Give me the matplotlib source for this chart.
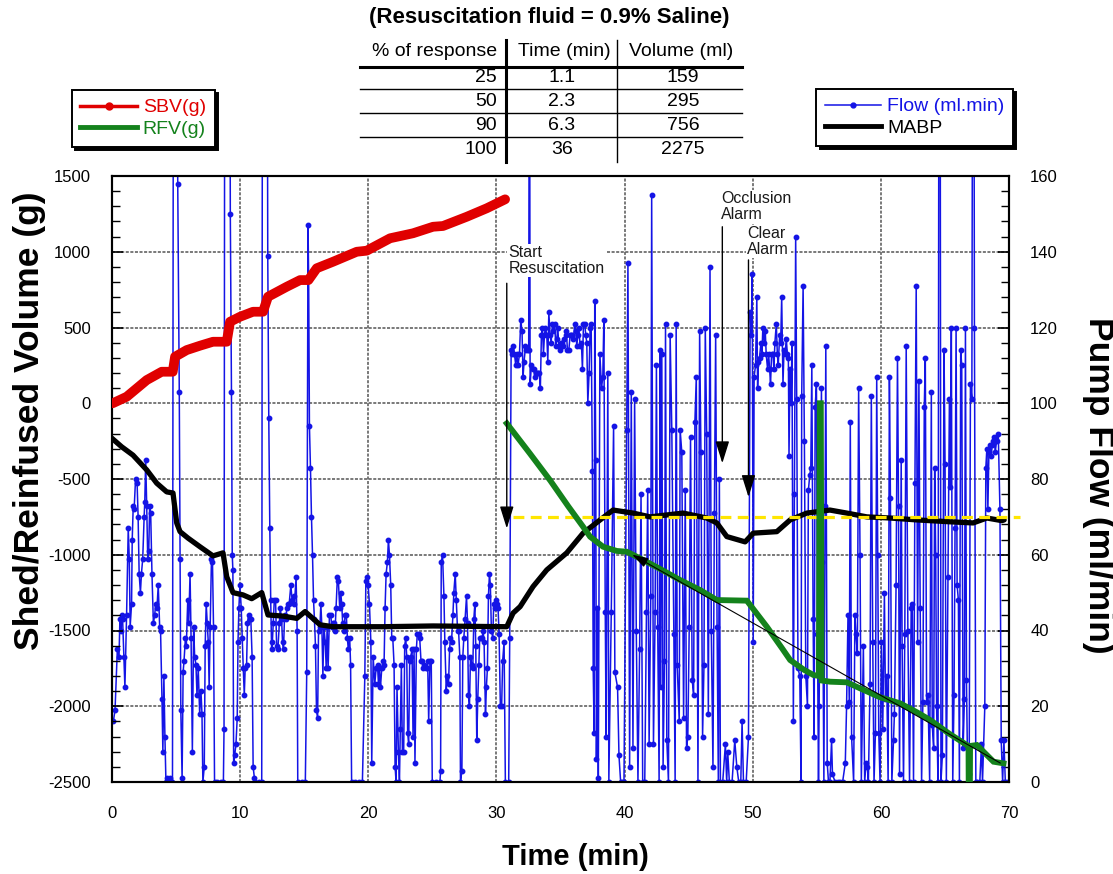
import matplotlib
matplotlib.use("Agg")
import matplotlib.pyplot as plt
from matplotlib.lines import Line2D
from matplotlib.ticker import MultipleLocator

# ---------------- data ----------------
title_text = "(Resuscitation fluid = 0.9% Saline)"
table_header = ["% of response", "Time (min)", "Volume (ml)"]
table_pct = ["25", "50", "90", "100"]
table_time = ["1.1", "2.3", "6.3", "36"]
table_vol = ["159", "295", "756", "2275"]

x_ticks = [0, 10, 20, 30, 40, 50, 60, 70]
left_ticks = [-2500, -2000, -1500, -1000, -500, 0, 500, 1000, 1500]
right_ticks = [0, 20, 40, 60, 80, 100, 120, 140, 160]

# shed blood volume (g, left axis)
sbv_min = [0.08, 1.17, 2.73, 3.90, 4.76, 4.94, 5.85, 6.89, 7.90, 8.97, 9.23, 10.01, 11.02, 11.80,
           12.19, 13.65, 14.69, 15.34, 15.99, 17.26, 19.11, 19.89, 21.71, 23.50, 25.06, 25.84,
           27.69, 29.25, 30.68]
sbv_g = [0, 43, 153, 208, 208, 307, 351, 380, 406, 406, 538, 571, 604, 604,
         703, 769, 813, 813, 891, 934, 1000, 1007, 1089, 1122, 1165, 1170,
         1231, 1287, 1346]

# reinfused volume (g, left axis)
rfv_min = [30.81, 32.60, 34.20, 35.60, 36.76, 37.31, 38.32, 39.39, 40.17, 41.21,
           42.80, 44.33, 45.89, 47.19, 49.53, 51.09, 52.30, 52.91, 54.00, 54.73,
           55.15, 55.22, 55.30, 55.36, 56.03, 57.33, 58.37, 59.90, 61.49, 62.80,
           63.83, 65.30, 66.69, 66.82, 66.84, 66.92, 66.94, 67.47, 68.77, 69.55]
rfv_g = [-133, -330, -510, -680, -815, -881, -947, -975, -980, -1024,
         -1095, -1167, -1233, -1299, -1303, -1475, -1620, -1695, -1760, -1794,
         -1800, 0, 0, -1830, -1838, -1842, -1882, -1940, -1981, -2040,
         -2091, -2180, -2256, -2262, -2650, -2650, -2262, -2256, -2366, -2377]

# mean arterial blood pressure (right axis)
mabp_min = [0.0, 0.78, 1.66, 2.73, 3.51, 4.29, 4.78, 5.07, 5.33, 5.95,
            6.89, 7.90, 8.68, 8.97, 9.46, 10.24, 10.92, 11.70, 12.19, 13.36,
            14.43, 15.08, 16.25, 17.26, 19.89, 21.16, 25.06, 30.81, 31.30, 31.85,
            32.86, 33.93, 35.49, 36.76, 38.09, 39.10, 40.66, 41.99, 44.56, 46.41,
            47.19, 47.97, 49.40, 50.03, 51.87, 52.91, 54.21, 56.01, 57.33, 58.89,
            60.71, 62.79, 65.39, 67.18, 68.25, 69.42, 69.60]
mabp_val = [90.8, 88.5, 86.3, 82.4, 78.9, 76.6, 76.3, 68.4, 66.1, 64.4,
            62.1, 59.7, 60.5, 54.2, 50.0, 49.4, 48.4, 50.0, 44.1, 43.8,
            43.2, 45.0, 41.5, 41.0, 41.0, 41.0, 41.2, 41.0, 44.6, 46.3,
            51.6, 56.0, 60.5, 65.7, 69.2, 71.8, 71.0, 70.0, 71.0, 69.7,
            68.4, 64.8, 63.4, 65.7, 66.1, 69.2, 71.0, 71.8, 71.0, 70.0,
            69.7, 69.2, 68.7, 68.4, 69.7, 69.0, 69.2]

# pump flow (right axis), four segments
flow_min_base = [
    0.13, 0.26, 0.44, 0.57, 0.64, 0.72, 0.77, 0.85, 0.95, 1.03,
    1.16, 1.29, 1.37, 1.44, 1.55, 1.60, 1.68, 1.75, 1.86, 1.98,
    2.06, 2.14, 2.24, 2.32, 2.42, 2.53, 2.58, 2.65, 2.73, 2.81,
    2.89, 2.96, 3.04, 3.14, 3.25, 3.35, 3.43, 3.53, 3.63, 3.74,
    3.81, 3.92, 3.99, 4.07, 4.15, 4.23, 4.33, 4.43, 4.54, 4.64,
    4.74, 4.82, 5.10, 5.15, 5.27, 5.33, 5.39, 5.49, 5.57, 5.64,
    5.75, 5.82, 5.93, 6.01, 6.11, 6.19, 6.29, 6.39, 6.47, 6.57,
    6.65, 6.75, 6.86, 6.96, 7.04, 7.11, 7.22, 7.29, 7.37, 7.45,
    7.53, 7.60, 7.68, 7.78, 7.86, 7.94, 8.02, 8.25, 8.50, 8.71,
    8.76, 8.82, 9.20, 9.25, 9.34, 9.40, 9.45, 9.51, 9.59, 9.69,
    9.79, 9.85, 9.92, 10.00, 10.10, 10.18, 10.26, 10.34, 10.41, 10.52,
    10.59, 10.67, 10.77, 10.85, 10.95, 11.03, 11.13, 11.21, 11.47, 11.70,
    11.76, 12.12, 12.17, 12.25, 12.33, 12.40, 12.47, 12.53, 12.60, 12.68,
    12.78, 12.86, 12.96, 13.07, 13.14, 13.25, 13.32, 13.40, 13.48, 13.58,
    13.66, 13.74, 13.84, 13.97, 14.07, 14.18, 14.25, 14.38, 14.46, 14.51,
    14.82, 15.10, 15.21, 15.31, 15.36, 15.42, 15.50, 15.58, 15.66, 15.74,
    15.81, 15.89, 15.97, 16.06, 16.13, 16.24, 16.31, 16.39, 16.47, 16.55,
    16.65, 16.73, 16.80, 16.88, 16.98, 17.09, 17.16, 17.24, 17.34, 17.42,
    17.50, 17.60, 17.68, 17.78, 17.86, 17.94, 18.01, 18.12, 18.20, 18.30,
    18.38, 18.45, 18.56, 18.63, 18.71, 19.00, 19.25, 19.55, 19.74, 19.82,
    19.90, 20.00, 20.10, 20.21, 20.28, 20.39, 20.52, 20.62, 20.73, 20.80,
    20.88, 20.96, 21.06, 21.17, 21.24, 21.32, 21.40, 21.50, 21.58, 21.66,
    21.76, 21.84, 21.92, 22.02, 22.10, 22.18, 22.25, 22.36, 22.44, 22.51,
    22.59, 22.67, 22.77, 22.85, 22.93, 23.01, 23.08, 23.16, 23.24, 23.32,
    23.42, 23.50, 23.58, 23.65, 23.76, 23.83, 23.94, 24.02, 24.12, 24.22,
    24.30, 24.38, 24.48, 24.56, 24.64, 24.72, 24.82, 24.92, 25.00, 25.30,
    25.60, 25.65, 25.70, 25.80, 25.91, 25.98, 26.09, 26.17, 26.27, 26.35,
    26.42, 26.50, 26.61, 26.68, 26.79, 26.87, 26.97, 27.05, 27.15, 27.20,
    27.31, 27.38, 27.46, 27.56, 27.67, 27.75, 27.82, 27.90, 27.98, 28.08,
    28.16, 28.24, 28.32, 28.39, 28.47, 28.55, 28.63, 28.70, 28.81, 28.89,
    28.96, 29.04, 29.15, 29.22, 29.30, 29.38, 29.46, 29.53, 29.61, 29.72,
    29.79, 29.87, 29.97, 30.05, 30.13, 30.21, 30.31, 30.41, 30.49, 30.60,
    30.70, 30.96, 31.04]
flow_rate_base = [
    16, 19, 35, 33, 43, 40, 44, 43, 33, 25,
    44, 67, 59, 41, 47, 64, 73, 72, 80, 79,
    70, 55, 50, 55, 59, 70, 74, 85, 73, 59,
    61, 73, 71, 55, 42, 44, 47, 46, 52, 41,
    40, 22, 8, 28, 12, 0, 1, 0, 1, 0,
    0, 230, 230, 158, 103, 59, 19, 1, 29, 32,
    38, 36, 48, 42, 55, 38, 8, 41, 33, 31,
    23, 30, 18, 24, 18, 0, 4, 36, 47, 42,
    37, 25, 41, 59, 58, 41, 0, 0, 0, 0,
    14, 230, 230, 150, 103, 60, 56, 5, 7, 10,
    17, 37, 46, 52, 46, 38, 30, 23, 30, 31,
    42, 44, 43, 43, 33, 4, 1, 0, 0, 0,
    230, 230, 139, 96, 67, 48, 35, 37, 42, 48,
    48, 36, 35, 42, 46, 43, 37, 35, 44, 43,
    46, 47, 47, 52, 48, 49, 47, 54, 40, 0,
    0, 0, 29, 147, 133, 94, 83, 70, 60, 48,
    43, 36, 19, 17, 40, 41, 47, 41, 28, 41,
    37, 30, 41, 30, 44, 44, 41, 42, 42, 40,
    46, 54, 53, 46, 50, 47, 42, 40, 44, 44,
    38, 35, 38, 31, 0, 0, 0, 0, 28, 53,
    54, 52, 47, 37, 5, 33, 26, 30, 31, 26,
    30, 25, 30, 32, 31, 46, 55, 58, 64, 60,
    52, 38, 38, 31, 4, 0, 25, 8, 0, 14,
    31, 8, 8, 36, 38, 33, 13, 10, 32, 33,
    35, 12, 35, 5, 35, 39, 39, 38, 32, 32,
    30, 31, 30, 30, 32, 16, 32, 32, 0, 0,
    0, 3, 58, 60, 49, 37, 24, 28, 26, 35,
    38, 37, 44, 50, 55, 48, 40, 40, 33, 0,
    3, 33, 38, 43, 49, 42, 23, 20, 33, 31,
    30, 43, 47, 36, 11, 22, 31, 38, 38, 38,
    40, 37, 18, 25, 30, 49, 55, 52, 40, 38,
    47, 46, 48, 47, 46, 39, 20, 20, 32, 37,
    0, 0, 38]

flow_min_early = [
    31.15, 31.23, 31.33, 31.41, 31.51, 31.59, 31.69, 31.80, 31.90, 32.00,
    32.08, 32.16, 32.27, 32.34, 32.45, 32.52, 32.58, 32.63, 32.73, 32.84,
    32.92, 32.99, 33.07, 33.15, 33.25, 33.36, 33.43, 33.51, 33.59, 33.67,
    33.75, 33.82, 33.93, 34.01, 34.09, 34.19, 34.27, 34.37, 34.45, 34.55,
    34.63, 34.71, 34.79, 34.87, 34.97, 35.05, 35.13, 35.23, 35.31, 35.39,
    35.46, 35.54, 35.65, 35.75, 35.83, 35.91, 36.01, 36.11, 36.19, 36.27,
    36.35, 36.43, 36.53, 36.63, 36.71, 36.79, 36.89, 36.97, 37.05, 37.13,
    37.23, 37.31, 37.39, 37.49, 37.55, 37.62, 37.67, 37.75, 37.80, 37.88,
    37.95, 38.07, 38.20, 38.30, 38.38, 38.49, 38.56, 38.69, 38.77, 38.96,
    39.14, 39.24, 39.45, 39.56, 39.69, 39.82, 39.95]
flow_rate_early = [
    114, 113, 115, 113, 110, 113, 110, 113, 122, 119,
    107, 111, 115, 114, 114, 114, 230, 105, 110, 109,
    109, 107, 108, 108, 108, 108, 104, 118, 120, 113,
    118, 120, 118, 111, 124, 118, 116, 121, 119, 121,
    115, 117, 120, 115, 114, 116, 116, 115, 117, 118,
    119, 114, 114, 118, 118, 118, 117, 121, 119, 115,
    118, 120, 115, 116, 109, 121, 121, 118, 116, 100,
    108, 120, 121, 82, 30, 13, 127, 85, 6, 46,
    1, 113, 104, 107, 122, 45, 12, 108, 0, 45,
    94, 29, 25, 7, 0, 0, 0]

flow_min_mid = [
    40.16, 40.26, 40.39, 40.52, 40.65, 40.78, 40.91, 41.04, 41.17, 41.28,
    41.41, 41.57, 41.70, 41.80, 41.91, 42.04, 42.11, 42.25, 42.38, 42.48,
    42.58, 42.69, 42.77, 42.82, 42.90, 43.00, 43.11, 43.19, 43.29, 43.42,
    43.55, 43.68, 43.84, 43.94, 44.02, 44.10, 44.26, 44.33, 44.46, 44.60,
    44.73, 44.83, 44.93, 45.04, 45.14, 45.27, 45.38, 45.48, 45.59, 45.72,
    45.85, 45.95, 46.08, 46.19, 46.29, 46.40, 46.53, 46.66, 46.76, 46.89,
    47.00, 47.10, 47.21, 47.31, 47.39, 47.47, 47.65, 47.86, 47.96, 48.04,
    48.17, 48.38, 48.59, 48.75, 48.90, 49.06, 49.16, 49.27, 49.48, 49.66,
    49.79, 49.87, 49.95, 50.03, 50.10, 50.21, 50.31, 50.37, 50.44, 50.52,
    50.63, 50.71, 50.78, 50.89, 50.97, 51.04, 51.15, 51.23, 51.31, 51.38,
    51.46, 51.57, 51.64, 51.72, 51.83, 51.91, 51.98, 52.09, 52.17, 52.25,
    52.35, 52.43, 52.51, 52.61, 52.69, 52.77, 52.82, 52.90, 52.98, 53.05,
    53.16, 53.24, 53.34, 53.42, 53.52, 53.66, 53.76]
flow_rate_mid = [
    93, 137, 4, 103, 9, 101, 40, 0, 35, 76,
    0, 0, 45, 77, 10, 49, 155, 10, 45, 110,
    41, 0, 114, 25, 113, 4, 32, 121, 11, 0,
    118, 93, 39, 0, 121, 31, 16, 93, 87, 17,
    77, 9, 12, 41, 91, 27, 23, 95, 107, 0,
    119, 87, 12, 31, 120, 92, 18, 136, 40, 4,
    71, 118, 41, 0, 80, 0, 0, 10, 0, 8,
    0, 0, 11, 4, 0, 0, 16, 0, 0, 12,
    124, 118, 134, 37, 107, 110, 128, 104, 111, 112,
    116, 113, 120, 116, 119, 113, 109, 113, 109, 105,
    113, 113, 109, 116, 121, 113, 110, 118, 116, 128,
    105, 114, 113, 117, 113, 112, 86, 109, 100, 116,
    16, 76, 144, 101, 30, 28, 0]

flow_min_late = [
    53.81, 53.92, 54.02, 54.13, 54.26, 54.33, 54.44, 54.52, 54.60, 54.70,
    54.78, 54.86, 54.96, 55.04, 55.12, 55.17, 55.35, 55.43, 55.54, 55.64,
    55.69, 55.80, 55.90, 56.01, 56.14, 56.21, 56.42, 56.61, 56.81, 57.00,
    57.21, 57.31, 57.42, 57.52, 57.60, 57.70, 57.86, 57.96, 58.04, 58.15,
    58.25, 58.36, 58.46, 58.62, 58.72, 58.83, 58.93, 59.01, 59.14, 59.24,
    59.35, 59.45, 59.56, 59.66, 59.74, 59.82, 59.92, 60.03, 60.13, 60.26,
    60.34, 60.44, 60.55, 60.65, 60.73, 60.84, 60.97, 61.04, 61.17, 61.28,
    61.36, 61.44, 61.57, 61.64, 61.75, 61.85, 61.96, 62.09, 62.22, 62.35,
    62.43, 62.53, 62.64, 62.74, 62.85, 62.95, 63.05, 63.16, 63.26, 63.37,
    63.45, 63.55, 63.66, 63.79, 63.92, 63.99, 64.10, 64.18, 64.26, 64.33,
    64.44, 64.52, 64.60, 64.67, 64.78, 64.91, 64.99, 65.09, 65.22, 65.33,
    65.40, 65.48, 65.59, 65.69, 65.77, 65.85, 65.93, 66.03, 66.11, 66.21,
    66.29, 66.40, 66.50, 66.58, 66.66, 66.76, 66.87, 66.97, 67.08, 67.15,
    67.23, 67.28, 67.39, 67.52, 67.70, 67.83, 67.91, 68.09, 68.17, 68.25,
    68.33, 68.41, 68.49, 68.59, 68.67, 68.75, 68.83, 68.90, 69.01, 69.14,
    69.27, 69.37, 69.48, 69.58, 69.69, 69.79]
flow_rate_late = [
    102, 131, 90, 28, 20, 77, 81, 83, 110, 43,
    12, 99, 105, 39, 0, 20, 104, 58, 0, 73,
    115, 5, 0, 0, 11, 2, 0, 0, 0, 0,
    5, 20, 44, 21, 95, 12, 0, 44, 39, 34,
    104, 60, 0, 36, 0, 5, 4, 0, 26, 102,
    37, 0, 13, 107, 60, 13, 0, 37, 14, 50,
    22, 28, 0, 107, 75, 0, 11, 18, 52, 112,
    73, 2, 85, 36, 0, 39, 115, 40, 0, 46,
    47, 0, 79, 131, 37, 106, 46, 0, 21, 99,
    112, 21, 23, 0, 103, 15, 9, 83, 60, 20,
    0, 230, 230, 0, 7, 114, 84, 0, 54, 101,
    78, 120, 0, 23, 67, 120, 52, 48, 0, 114,
    110, 9, 22, 120, 27, 0, 2, 105, 101, 230,
    230, 120, 0, 0, 0, 10, 0, 20, 83, 88,
    72, 87, 89, 86, 89, 90, 91, 87, 90, 92,
    72, 11, 0, 11, 0, 0]

target_mabp = 70
target_span_min = [31.3, 70.8]
trend_min = [69.3, 40.6]
trend_g = [-2375, -1000]

event_labels = ["Start\nResuscitation", "Occlusion\nAlarm", "Clear\nAlarm"]
event_min = [30.81, 47.62, 49.66]

# ---------------- styling ----------------
RED = "#e00000"
GREEN = "#14821c"
BLUE = "#1414e6"
BLACK = "#000000"
YELLOW = "#ffe600"
GRID = "#555555"

plt.rcParams["font.family"] = ["Liberation Sans", "DejaVu Sans"]
plt.rcParams["axes.unicode_minus"] = False

W, H = 1113, 874
fig = plt.figure(figsize=(W / 100, H / 100), dpi=100)


def fx(px):
    return px / W


def fy(py):
    return 1 - py / H


ax = fig.add_axes([fx(111.7), fy(782), fx(1009.3) - fx(111.7), fy(176) - fy(782)])
ax2 = ax.twinx()
ax.set_zorder(ax2.get_zorder() + 1)
ax.patch.set_visible(False)

# flow + MABP on right axis (drawn below)
flow_min = flow_min_base + flow_min_early + flow_min_mid + flow_min_late
flow_rate = flow_rate_base + flow_rate_early + flow_rate_mid + flow_rate_late
ax2.plot(flow_min, flow_rate, color=BLUE, lw=1.1, marker="o", ms=3.2,
         mfc=BLUE, mec=BLUE, zorder=2)
ax2.plot(mabp_min, mabp_val, color=BLACK, lw=3.8, solid_joinstyle="round",
         solid_capstyle="round", zorder=3)
ax2.plot(target_span_min, [target_mabp, target_mabp], color=YELLOW, lw=2.3,
         dashes=(3.4, 2.0), zorder=4, clip_on=False)

# left-axis series (drawn above)
ax.plot(sbv_min, sbv_g, color=RED, lw=7, solid_capstyle="round",
        solid_joinstyle="round", zorder=3)
ax.plot(rfv_min, rfv_g, color=GREEN, lw=4.2, solid_joinstyle="miter", zorder=3)
ax.annotate("", xy=(trend_min[1], trend_g[1]), xytext=(trend_min[0], trend_g[0]),
            arrowprops=dict(arrowstyle="-|>,head_length=0.7,head_width=0.22",
                            color="black", lw=0.8, mutation_scale=14,
                            shrinkA=0, shrinkB=0), zorder=5)

# limits / ticks
ax.set_xlim(0, 70)
ax.set_ylim(-2500, 1500)
ax2.set_ylim(0, 160)
ax.set_xticks(x_ticks)
ax.set_yticks(left_ticks)
ax.yaxis.set_minor_locator(MultipleLocator(100))
ax2.set_yticks(right_ticks)
ax2.yaxis.set_minor_locator(MultipleLocator(4))
ax.tick_params(axis="y", which="major", direction="in", length=8, width=1.2,
               labelsize=12, pad=15)
ax.tick_params(axis="y", which="minor", direction="in", length=6, width=1.0)
ax.tick_params(axis="x", which="major", direction="in", length=0, labelsize=12, pad=17)
ax2.tick_params(axis="y", which="major", direction="in", length=8, width=1.2,
                labelsize=12, pad=15)
ax2.tick_params(axis="y", which="minor", direction="in", length=6, width=1.0)

# grid on the lower axes
ax2.set_axisbelow(True)
ax2.yaxis.grid(True, which="major", color=GRID, lw=1.1, ls=(0, (2, 1)))
for t in x_ticks[1:-1]:
    ax2.axvline(t, color=GRID, lw=1.1, ls=(0, (2, 1)), zorder=0.5)

for a in (ax, ax2):
    for s in a.spines.values():
        s.set_linewidth(1.5)

# axis labels
fig.text(fx(30), fy(421), "Shed/Reinfused Volume (g)", rotation=90, ha="center",
         va="center", fontsize=25.5, fontweight="bold")
fig.text(fx(1098), fy(485), "Pump Flow (ml/min)", rotation=270, ha="center",
         va="center", fontsize=25.5, fontweight="bold")
fig.text(fx(575), fy(857), "Time (min)", ha="center", va="center", fontsize=21,
         fontweight="bold")

# event annotations
text_g = [942, 1300, 1069]
arrow_top = [792, 1165, 946]
arrow_tip = [-826, -396, -619]
text_dx = [0.15, -0.1, -0.08]
for lab, t, tg, top, tip, dx in zip(event_labels, event_min, text_g, arrow_top,
                                     arrow_tip, text_dx):
    ax.text(t + dx, tg, lab, ha="left", va="center", fontsize=11.5, color="#1a1a1a",
            linespacing=1.05, zorder=6,
            bbox=dict(facecolor="white", edgecolor="none", pad=1.0))
    ax.annotate("", xy=(t, tip), xytext=(t, top),
                arrowprops=dict(arrowstyle="-|>,head_length=0.8,head_width=0.25",
                                color="black", lw=1.0, mutation_scale=17,
                                shrinkA=0, shrinkB=0), zorder=6)

# title and table
fig.text(fx(549), fy(18), title_text, ha="center", va="center", fontsize=16,
         fontweight="bold")
header_y = 52
row_y = [78, 102, 125, 149]
fig.text(fx(497), fy(header_y), table_header[0], ha="right", va="center", fontsize=14)
fig.text(fx(564), fy(header_y), table_header[1], ha="center", va="center", fontsize=14)
fig.text(fx(681), fy(header_y), table_header[2], ha="center", va="center", fontsize=14)
for yy, p, tm, v in zip(row_y, table_pct, table_time, table_vol):
    fig.text(fx(497), fy(yy), p, ha="right", va="center", fontsize=14)
    fig.text(fx(562), fy(yy), tm, ha="center", va="center", fontsize=14)
    fig.text(fx(683), fy(yy), v, ha="center", va="center", fontsize=14)
fig.add_artist(Line2D([fx(360), fx(742)], [fy(67), fy(67)], transform=fig.transFigure,
                      color="black", lw=2.2))
for yy in [89, 113, 137]:
    fig.add_artist(Line2D([fx(360), fx(742)], [fy(yy), fy(yy)],
                          transform=fig.transFigure, color="black", lw=1.0))
fig.add_artist(Line2D([fx(506), fx(506)], [fy(40), fy(162)], transform=fig.transFigure,
                      color="black", lw=2.2))
fig.add_artist(Line2D([fx(616.5), fx(616.5)], [fy(40), fy(162)],
                      transform=fig.transFigure, color="black", lw=1.0))

# legends
shadow = {"ox": 2.5, "oy": -2.5, "color": "black", "alpha": 1.0}
h_left = [Line2D([], [], color=RED, lw=2.5, marker="o", ms=5),
          Line2D([], [], color=GREEN, lw=3.5)]
leg1 = fig.legend(h_left, ["SBV(g)", "RFV(g)"], loc="upper left",
                  bbox_to_anchor=(fx(71.7), fy(90)), frameon=True, fancybox=False,
                  shadow=shadow, edgecolor="black", framealpha=1, fontsize=14,
                  handlelength=2.9, handletextpad=0.3, labelspacing=0.2,
                  borderpad=0.45, borderaxespad=0)
leg1.get_frame().set_linewidth(1.4)
for txt, c in zip(leg1.get_texts(), [RED, GREEN]):
    txt.set_color(c)

h_right = [Line2D([], [], color=BLUE, lw=1.1, marker="o", ms=3.5),
           Line2D([], [], color=BLACK, lw=3.5)]
leg2 = fig.legend(h_right, ["Flow (ml.min)", "MABP"], loc="upper right",
                  bbox_to_anchor=(fx(1013), fy(89)), frameon=True, fancybox=False,
                  shadow=shadow, edgecolor="black", framealpha=1, fontsize=14,
                  handlelength=2.9, handletextpad=0.3, labelspacing=0.2,
                  borderpad=0.45, borderaxespad=0)
leg2.get_frame().set_linewidth(1.4)
for txt, c in zip(leg2.get_texts(), [BLUE, BLACK]):
    txt.set_color(c)

fig.savefig("out.png", dpi=100)
